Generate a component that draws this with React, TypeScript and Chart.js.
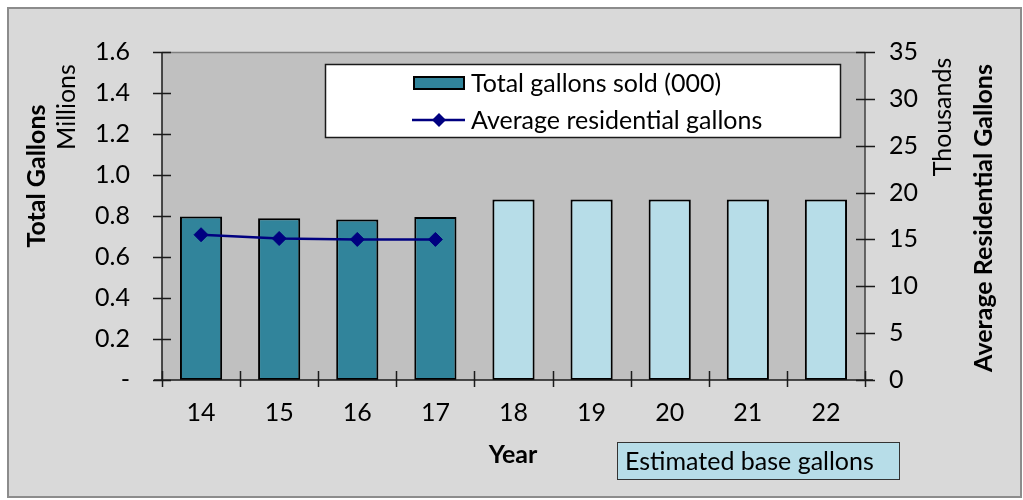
import { useEffect, useRef } from "react";
import { Chart, registerables } from "chart.js";

Chart.register(...registerables);

// Fiscal years (two-digit) on the category axis
const years = ["14", "15", "16", "17", "18", "19", "20", "21", "22"];
// Total gallons sold, in millions (left axis)
const totalGallonsMillions = [0.797, 0.789, 0.783, 0.795, 0.88, 0.88, 0.88, 0.88, 0.88];
// Years whose total is an estimate (drawn in light blue)
const estimatedYears = ["18", "19", "20", "21", "22"];
// Average residential gallons, in thousands (right axis)
const avgResidentialThousands = [15.5, 15.1, 15.0, 15.0, null, null, null, null, null];
// Axis ranges
const leftAxis = { min: 0, max: 1.6, step: 0.2 };
const rightAxis = { min: 0, max: 35, step: 5 };

const FONT = "Lato, Carlito, 'Liberation Sans', sans-serif";
const TEAL = "#31849b";
const LIGHT_BLUE = "#b7dde8";
const NAVY = "#000080";
const PLOT_BG = "#c0c0c0";
const OUTER_BG = "#d9d9d9";

const decorations = {
  id: "decorations",
  beforeDraw(chart: any) {
    const { ctx, chartArea: a, width, height } = chart;
    ctx.save();
    ctx.fillStyle = "#ffffff";
    ctx.fillRect(0, 0, width, height);
    ctx.fillStyle = OUTER_BG;
    ctx.fillRect(7, 7, 1015, 491);
    ctx.strokeStyle = "#8c8c8c";
    ctx.lineWidth = 2;
    ctx.strokeRect(8, 8, 1013, 489);
    ctx.fillStyle = PLOT_BG;
    ctx.fillRect(a.left, a.top, a.right - a.left, a.bottom - a.top);
    // top edge of plot area
    ctx.strokeStyle = "#808080";
    ctx.lineWidth = 1.5;
    ctx.beginPath();
    ctx.moveTo(a.left, a.top + 0.5);
    ctx.lineTo(a.right, a.top + 0.5);
    ctx.stroke();
    ctx.restore();
  },
  afterDraw(chart: any) {
    const { ctx, chartArea: a } = chart;
    const x = chart.scales.x;
    const y = chart.scales.y;
    const y1 = chart.scales.y1;
    ctx.save();

    // axis lines
    ctx.strokeStyle = "#1a1a1a";
    ctx.lineWidth = 1.5;
    ctx.beginPath();
    ctx.moveTo(a.left, a.top);
    ctx.lineTo(a.left, a.bottom);
    ctx.moveTo(a.left - 8, a.bottom);
    ctx.lineTo(a.right + 8, a.bottom);
    ctx.stroke();
    ctx.strokeStyle = "#404040";
    ctx.beginPath();
    ctx.moveTo(a.right, a.top);
    ctx.lineTo(a.right, a.bottom);
    ctx.stroke();

    // cross tick marks
    ctx.strokeStyle = "#1a1a1a";
    ctx.beginPath();
    for (let v = leftAxis.min; v <= leftAxis.max + 1e-9; v += leftAxis.step) {
      const py = Math.round(y.getPixelForValue(v)) + 0.5;
      ctx.moveTo(a.left - 9, py);
      ctx.lineTo(a.left + 9, py);
    }
    for (let v = rightAxis.min; v <= rightAxis.max + 1e-9; v += rightAxis.step) {
      const py = Math.round(y1.getPixelForValue(v)) + 0.5;
      ctx.moveTo(a.right - 9, py);
      ctx.lineTo(a.right + 10, py);
    }
    const n = years.length;
    const cw = (x.right - x.left) / n;
    for (let i = 0; i <= n; i++) {
      const px = Math.round(x.left + i * cw) + 0.5;
      ctx.moveTo(px, a.bottom - 9);
      ctx.lineTo(px, a.bottom + 7);
    }
    ctx.stroke();

    // axis titles
    const rotated = (text: string, cx: number, cy: number, font: string) => {
      ctx.save();
      ctx.translate(cx, cy);
      ctx.rotate(-Math.PI / 2);
      ctx.font = font;
      ctx.fillStyle = "#000";
      ctx.textAlign = "center";
      ctx.textBaseline = "middle";
      ctx.fillText(text, 0, 0);
      ctx.restore();
    };
    rotated("Total Gallons", 37, 176, `bold 25px ${FONT}`);
    rotated("Millions", 67, 107, `25px ${FONT}`);
    rotated("Thousands", 943, 117, `25px ${FONT}`);
    rotated("Average Residential Gallons", 984, 218, `bold 25px ${FONT}`);

    ctx.font = `bold 25px ${FONT}`;
    ctx.fillStyle = "#000";
    ctx.textAlign = "center";
    ctx.textBaseline = "middle";
    ctx.fillText("Year", 513, 455);

    // legend box
    ctx.fillStyle = "#ffffff";
    ctx.fillRect(325, 64, 516, 74);
    ctx.strokeStyle = "#1a1a1a";
    ctx.lineWidth = 1.5;
    ctx.strokeRect(325.5, 64.5, 515, 73);
    // bar swatch
    ctx.fillStyle = "#000";
    ctx.fillRect(413, 76, 52, 14);
    ctx.fillStyle = TEAL;
    ctx.fillRect(415, 78, 48, 10);
    // line swatch
    ctx.strokeStyle = NAVY;
    ctx.lineWidth = 2.5;
    ctx.beginPath();
    ctx.moveTo(412, 120);
    ctx.lineTo(465, 120);
    ctx.stroke();
    ctx.fillStyle = NAVY;
    ctx.beginPath();
    ctx.moveTo(439, 113);
    ctx.lineTo(446, 120);
    ctx.lineTo(439, 127);
    ctx.lineTo(432, 120);
    ctx.closePath();
    ctx.fill();
    ctx.font = `25px ${FONT}`;
    ctx.fillStyle = "#000";
    ctx.textAlign = "left";
    ctx.textBaseline = "middle";
    ctx.fillText("Total gallons sold (000)", 471, 84);
    ctx.fillText("Average residential gallons", 471, 121);

    // estimate note
    ctx.fillStyle = LIGHT_BLUE;
    ctx.fillRect(617, 442, 283, 38);
    ctx.strokeStyle = "#333";
    ctx.lineWidth = 1;
    ctx.strokeRect(617.5, 442.5, 282, 37);
    ctx.fillStyle = "#000";
    ctx.fillText("Estimated base gallons", 625, 462);

    ctx.restore();
  },
};

export default function App() {
  const ref = useRef<HTMLCanvasElement | null>(null);

  useEffect(() => {
    if (!ref.current) return;
    const tickFont = { family: FONT, size: 25 };
    const chart = new Chart(ref.current, {
      type: "bar",
      data: {
        labels: years,
        datasets: [
          {
            type: "line",
            label: "Average residential gallons",
            data: avgResidentialThousands,
            yAxisID: "y1",
            borderColor: NAVY,
            backgroundColor: NAVY,
            borderWidth: 2.5,
            pointStyle: "rectRot",
            pointRadius: 7,
            pointBorderWidth: 1,
            pointBackgroundColor: NAVY,
            pointBorderColor: NAVY,
            tension: 0,
            order: 0,
          } as any,
          {
            type: "bar",
            label: "Total gallons sold (000)",
            data: totalGallonsMillions,
            yAxisID: "y",
            backgroundColor: years.map((yr) => (estimatedYears.includes(yr) ? LIGHT_BLUE : TEAL)),
            borderColor: "#000",
            borderWidth: 2,
            borderSkipped: false,
            barPercentage: 0.54,
            categoryPercentage: 1,
            order: 1,
          } as any,
        ],
      },
      options: {
        animation: false,
        responsive: false,
        devicePixelRatio: 1,
        layout: { padding: { top: 52, left: 0, right: 0, bottom: 0 } },
        plugins: { legend: { display: false }, tooltip: { enabled: false } },
        scales: {
          x: {
            offset: true,
            grid: { display: false, drawTicks: false },
            border: { display: false },
            ticks: { font: tickFont, color: "#000", padding: 18, maxRotation: 0 },
            afterFit(s: any) {
              s.height = 120;
            },
          },
          y: {
            position: "left",
            min: leftAxis.min,
            max: leftAxis.max,
            grid: { display: false, drawTicks: false },
            border: { display: false },
            ticks: {
              stepSize: leftAxis.step,
              font: tickFont,
              color: "#000",
              padding: 32,
              callback: (v: any) => (Number(v) === 0 ? "-" : Number(v).toFixed(1)),
            },
            afterFit(s: any) {
              s.width = 162;
            },
          },
          y1: {
            position: "right",
            min: rightAxis.min,
            max: rightAxis.max,
            grid: { display: false, drawTicks: false },
            border: { display: false },
            ticks: { stepSize: rightAxis.step, font: tickFont, color: "#000", padding: 24 },
            afterFit(s: any) {
              s.width = 158;
            },
          },
        },
      },
      plugins: [decorations],
    });
    return () => chart.destroy();
  }, []);

  return (
    <div style={{ position: "absolute", left: 0, top: 0, width: 1023, height: 500 }}>
      <canvas ref={ref} width={1023} height={500} style={{ display: "block" }} />
    </div>
  );
}
